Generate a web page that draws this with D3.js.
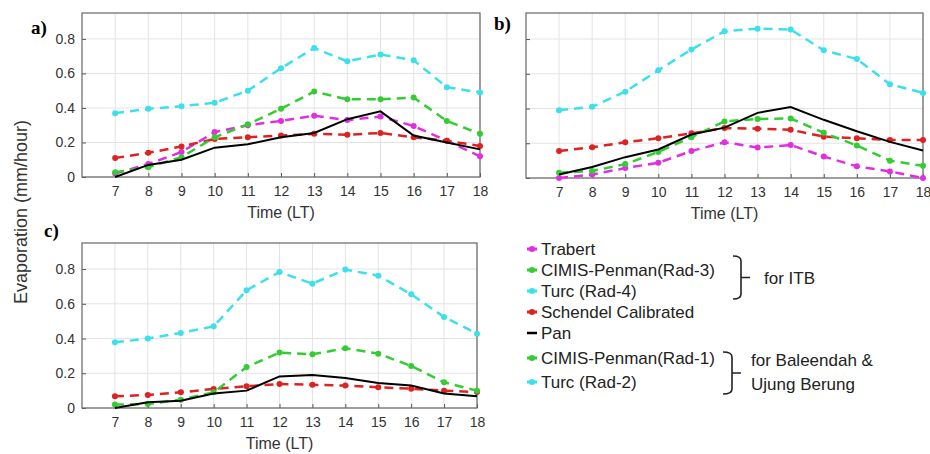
<!DOCTYPE html>
<html>
<head>
<meta charset="utf-8">
<script src="https://cdn.jsdelivr.net/npm/d3@7"></script>
<style>
  body { margin: 0; background: #fff; }
  svg { font-family: 'Liberation Sans', Arial, sans-serif; }
</style>
</head>
<body>
<svg id="chart" width="930" height="454"></svg>
<script>
const hours = [7, 8, 9, 10, 11, 12, 13, 14, 15, 16, 17, 18];
const yTicks = [0, 0.2, 0.4, 0.6, 0.8];

// panel a) ITB
const trabertA  = [0.02, 0.075, 0.145, 0.26, 0.30, 0.325, 0.355, 0.33, 0.35, 0.295, 0.21, 0.12];
const cimisA    = [0.027, 0.057, 0.115, 0.23, 0.305, 0.395, 0.495, 0.45, 0.45, 0.46, 0.325, 0.25];
const turcA     = [0.37, 0.395, 0.41, 0.43, 0.50, 0.63, 0.747, 0.67, 0.71, 0.676, 0.52, 0.49];
const schendelA = [0.11, 0.14, 0.177, 0.22, 0.23, 0.24, 0.25, 0.245, 0.255, 0.23, 0.21, 0.18];
const panA      = [0, 0.07, 0.10, 0.17, 0.19, 0.23, 0.255, 0.335, 0.38, 0.24, 0.20, 0.16];

// panel b)
const trabertB  = [0, 0.02, 0.057, 0.088, 0.155, 0.206, 0.175, 0.19, 0.124, 0.067, 0.038, 0];
const cimisB    = [0.03, 0.04, 0.08, 0.15, 0.235, 0.326, 0.34, 0.343, 0.26, 0.187, 0.10, 0.07];
const turcB     = [0.39, 0.41, 0.497, 0.62, 0.74, 0.845, 0.86, 0.855, 0.735, 0.685, 0.54, 0.49];
const schendelB = [0.156, 0.177, 0.206, 0.229, 0.257, 0.288, 0.284, 0.278, 0.238, 0.229, 0.219, 0.219];
const panB      = [0.02, 0.063, 0.12, 0.164, 0.25, 0.29, 0.375, 0.408, 0.335, 0.269, 0.208, 0.158];

// panel c)
const cimisC    = [0.02, 0.023, 0.048, 0.09, 0.236, 0.319, 0.309, 0.344, 0.313, 0.242, 0.148, 0.10];
const turcC     = [0.378, 0.40, 0.432, 0.47, 0.678, 0.783, 0.716, 0.797, 0.762, 0.655, 0.524, 0.428];
const schendelC = [0.067, 0.075, 0.09, 0.11, 0.125, 0.138, 0.134, 0.129, 0.119, 0.111, 0.10, 0.092];
const panC      = [0, 0.033, 0.042, 0.083, 0.10, 0.182, 0.19, 0.173, 0.144, 0.13, 0.083, 0.067];

const colors = {
  trabert: '#e22ee2',
  cimis: '#33cc33',
  turc: '#3be0ea',
  schendel: '#dd2222',
  pan: '#000000'
};

const svg = d3.select('#chart');

function drawPanel(box, label, labelPos, showY, series) {
  const x = d3.scaleLinear().domain([6, 18]).range([box.left, box.right]);
  const y = d3.scaleLinear().domain([0, 0.95]).range([box.bottom, box.top]);
  const g = svg.append('g');

  // grid
  g.selectAll('.vgrid').data(hours).enter().append('line')
    .attr('x1', d => x(d)).attr('x2', d => x(d))
    .attr('y1', box.top).attr('y2', box.bottom)
    .style('stroke', '#e3e3e3').style('stroke-width', 1);
  g.selectAll('.hgrid').data(yTicks).enter().append('line')
    .attr('x1', box.left).attr('x2', box.right)
    .attr('y1', d => y(d)).attr('y2', d => y(d))
    .style('stroke', '#e3e3e3').style('stroke-width', 1);

  const xAxis = g.append('g')
    .attr('transform', 'translate(0,' + box.bottom + ')')
    .call(d3.axisBottom(x).tickValues(hours).tickSize(-4).tickPadding(9));
  xAxis.select('.domain').remove();
  xAxis.selectAll('line').style('stroke', '#555');
  xAxis.selectAll('text').style('font-size', '14px').style('fill', '#333');

  const yAxis = g.append('g')
    .attr('transform', 'translate(' + box.left + ',0)')
    .call(d3.axisLeft(y).tickValues(yTicks).tickSize(-4).tickPadding(7)
      .tickFormat(d => showY ? (d === 0 ? '0' : d3.format('.1f')(d)) : ''));
  yAxis.select('.domain').remove();
  yAxis.selectAll('line').style('stroke', '#555');
  yAxis.selectAll('text').style('font-size', '14px').style('fill', '#333');

  g.append('rect')
    .attr('x', box.left).attr('y', box.top)
    .attr('width', box.right - box.left).attr('height', box.bottom - box.top)
    .style('fill', 'none').style('stroke', '#666').style('stroke-width', 1.2);

  g.append('text')
    .text('Time (LT)')
    .attr('x', (box.left + box.right) / 2)
    .attr('y', box.bottom + 41)
    .attr('text-anchor', 'middle')
    .style('font-size', '16px').style('fill', '#333');

  const line = d3.line().x((d, i) => x(hours[i])).y(d => y(d));

  series.forEach(s => {
    g.append('path')
      .datum(s.values)
      .attr('d', line)
      .style('fill', 'none')
      .style('stroke', colors[s.key])
      .style('stroke-width', s.key === 'pan' ? 2 : 2.5)
      .style('stroke-dasharray', s.key === 'pan' ? null : '9,6');
    if (s.key !== 'pan') {
      g.selectAll('.dot-' + s.key).data(s.values).enter().append('circle')
        .attr('cx', (d, i) => x(hours[i]))
        .attr('cy', d => y(d))
        .attr('r', 3)
        .style('fill', colors[s.key]);
    }
  });

  svg.append('text')
    .text(label)
    .attr('x', labelPos[0]).attr('y', labelPos[1])
    .style('font-family', "'Liberation Serif', 'Times New Roman', serif")
    .style('font-weight', 'bold')
    .style('font-size', '19px');
}

drawPanel({ left: 82, right: 480, top: 13, bottom: 177 }, 'a)', [31, 34], true, [
  { key: 'trabert', values: trabertA },
  { key: 'schendel', values: schendelA },
  { key: 'cimis', values: cimisA },
  { key: 'turc', values: turcA },
  { key: 'pan', values: panA }
]);

drawPanel({ left: 526, right: 923, top: 13, bottom: 178 }, 'b)', [494, 30], false, [
  { key: 'trabert', values: trabertB },
  { key: 'schendel', values: schendelB },
  { key: 'cimis', values: cimisB },
  { key: 'turc', values: turcB },
  { key: 'pan', values: panB }
]);

drawPanel({ left: 82, right: 477, top: 243, bottom: 408 }, 'c)', [44, 237], true, [
  { key: 'schendel', values: schendelC },
  { key: 'cimis', values: cimisC },
  { key: 'turc', values: turcC },
  { key: 'pan', values: panC }
]);

// shared y label
svg.append('text')
  .text('Evaporation (mm/hour)')
  .attr('transform', 'translate(27, 212) rotate(-90)')
  .attr('text-anchor', 'middle')
  .style('font-size', '18px').style('fill', '#333');

// legend
const legendItems = [
  { name: 'Trabert', key: 'trabert', y: 249 },
  { name: 'CIMIS-Penman(Rad-3)', key: 'cimis', y: 270 },
  { name: 'Turc (Rad-4)', key: 'turc', y: 291 },
  { name: 'Schendel Calibrated', key: 'schendel', y: 312 },
  { name: 'Pan', key: 'pan', y: 333 },
  { name: 'CIMIS-Penman(Rad-1)', key: 'cimis', y: 358 },
  { name: 'Turc (Rad-2)', key: 'turc', y: 382 }
];

const legend = svg.append('g');
legendItems.forEach(d => {
  const item = legend.append('g').attr('transform', 'translate(527,' + d.y + ')');
  item.append('line')
    .attr('x1', 0).attr('x2', 10).attr('y1', 0).attr('y2', 0)
    .style('stroke', colors[d.key]).style('stroke-width', d.key === 'pan' ? 2.5 : 3);
  if (d.key !== 'pan') {
    item.append('circle').attr('cx', 5).attr('cy', 0).attr('r', 3).style('fill', colors[d.key]);
  }
  item.append('text')
    .text(d.name)
    .attr('x', 14).attr('y', 6)
    .style('font-size', '17px').style('fill', '#222');
});

function brace(x0, x1, y0, y1, tip) {
  const ym = (y0 + y1) / 2;
  const p = d3.path();
  p.moveTo(x0, y0);
  p.quadraticCurveTo(x1, y0, x1, y0 + 5);
  p.lineTo(x1, y1 - 5);
  p.quadraticCurveTo(x1, y1, x0, y1);
  p.moveTo(x1, ym);
  p.lineTo(x1 + tip, ym);
  legend.append('path').attr('d', p.toString())
    .style('fill', 'none').style('stroke', '#222').style('stroke-width', 1.6);
}

brace(733, 741, 256, 299, 9);
legend.append('text').text('for ITB')
  .attr('x', 764).attr('y', 284)
  .style('font-size', '17px').style('fill', '#222');

brace(723, 732, 352, 394, 9);
legend.append('text').text('for Baleendah &')
  .attr('x', 751).attr('y', 366)
  .style('font-size', '17px').style('fill', '#222');
legend.append('text').text('Ujung Berung')
  .attr('x', 751).attr('y', 390)
  .style('font-size', '17px').style('fill', '#222');
</script>
</body>
</html>
